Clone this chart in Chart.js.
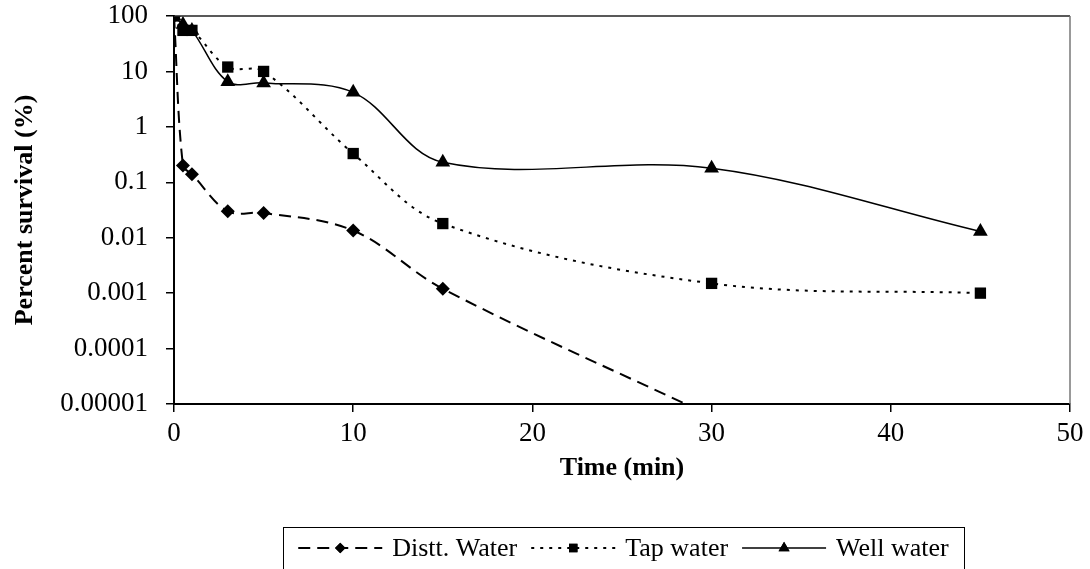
<!DOCTYPE html>
<html>
<head>
<meta charset="utf-8">
<script src="https://cdn.jsdelivr.net/npm/chart.js"></script>
<style>
  html, body { margin: 0; padding: 0; background: #fff; }
  #wrap { width: 1090px; height: 569px; }
</style>
</head>
<body>
<div id="wrap"><canvas id="chart"></canvas></div>
<script>
// values (time in minutes, percent survival)
const disttTime = [0, 0.5, 1, 3, 5, 10, 15, 30];
const disttSurvival = [100, 0.2, 0.14, 0.03, 0.028, 0.0135, 0.0012, 0.000006];

const tapTime = [0, 0.5, 1, 3, 5, 10, 15, 30, 45];
const tapSurvival = [100, 55, 55, 12, 10, 0.33, 0.018, 0.0015, 0.001];

const wellTime = [0, 0.5, 1, 3, 5, 10, 15, 30, 45];
const wellSurvival = [100, 70, 55, 6.5, 6.2, 4.2, 0.23, 0.18, 0.013];

const seriesNames = ["Distt. Water", "Tap water", "Well water"];
const yTickValues = [100, 10, 1, 0.1, 0.01, 0.001, 0.0001, 0.00001];
const xTickValues = [0, 10, 20, 30, 40, 50];

const serif = "'Liberation Serif', 'Times New Roman', serif";

const toPoints = (xs, ys) => xs.map((x, i) => ({ x: x, y: ys[i] }));

// top/right frame of the plot area
const frame = {
  id: "frame",
  afterDatasetsDraw(chart) {
    const { ctx, chartArea: a } = chart;
    ctx.save();
    ctx.lineWidth = 1.5;
    ctx.strokeStyle = "#222";
    ctx.beginPath();
    ctx.moveTo(a.left, a.top);
    ctx.lineTo(a.right, a.top);
    ctx.stroke();
    ctx.strokeStyle = "#777";
    ctx.beginPath();
    ctx.moveTo(a.right, a.top);
    ctx.lineTo(a.right, a.bottom);
    ctx.stroke();
    ctx.restore();
  },
};

// boxed legend below the axis title: line sample with marker, then name
const boxLegend = {
  id: "boxLegend",
  afterDraw(chart) {
    const ctx = chart.ctx;
    const box = { left: 283, top: 527, right: 964, bottom: 580 };
    const midY = 548;
    const sample = 84;
    ctx.save();
    ctx.strokeStyle = "#000";
    ctx.lineWidth = 1;
    ctx.strokeRect(box.left + 0.5, box.top + 0.5, box.right - box.left, box.bottom - box.top);

    ctx.font = "26px " + serif;
    ctx.textBaseline = "middle";
    const items = chart.data.datasets;
    const widths = items.map((d) => ctx.measureText(d.label).width);
    const total = widths.reduce((s, w) => s + w, 0) + items.length * (sample + 10) + (items.length - 1) * 14;
    let x = box.left + (box.right - box.left - total) / 2;

    items.forEach((d, i) => {
      ctx.save();
      ctx.strokeStyle = "#000";
      ctx.lineWidth = d.borderWidth;
      ctx.setLineDash(d.borderDash || []);
      ctx.beginPath();
      ctx.moveTo(x, midY);
      ctx.lineTo(x + sample, midY);
      ctx.stroke();
      ctx.restore();
      Chart.helpers.drawPoint(ctx, {
        pointStyle: d.pointStyle,
        radius: d.pointRadius * 0.75,
        rotation: 0,
        borderWidth: 0,
      }, x + sample / 2, midY);
      ctx.fillStyle = "#000";
      ctx.fill();
      x += sample + 10;
      ctx.fillStyle = "#000";
      ctx.fillText(d.label, x, midY + 1);
      x += widths[i] + 14;
    });
    ctx.restore();
  },
};

const lineSet = (label, xs, ys, dash, width, style, radius, order) => ({
  label: label,
  data: toPoints(xs, ys),
  borderColor: "#000",
  backgroundColor: "#000",
  borderWidth: width,
  borderDash: dash,
  pointStyle: style,
  pointRadius: radius,
  pointHoverRadius: radius,
  pointBorderWidth: 0,
  tension: 0.35,
  order: order,
});

new Chart(document.getElementById("chart"), {
  type: "line",
  data: {
    datasets: [
      lineSet(seriesNames[0], disttTime, disttSurvival, [12, 7], 2, "rectRot", 7, 2),
      lineSet(seriesNames[1], tapTime, tapSurvival, [3, 6], 2, "rect", 8, 0),
      lineSet(seriesNames[2], wellTime, wellSurvival, [], 1.5, "triangle", 8.5, 1),
    ],
  },
  options: {
    responsive: true,
    maintainAspectRatio: false,
    animation: false,
    layout: { padding: { top: 16, right: 20, bottom: 85, left: 0 } },
    elements: { line: { capBezierPoints: false } },
    plugins: {
      legend: { display: false },
      tooltip: { enabled: false },
    },
    scales: {
      x: {
        type: "linear",
        min: 0,
        max: 50,
        afterBuildTicks: (scale) => {
          scale.ticks = xTickValues.map((v) => ({ value: v }));
        },
        afterFit: (scale) => {
          scale.height = 80;
          scale.paddingLeft = 0;
          scale.paddingRight = 0;
        },
        border: { display: true, color: "#000", width: 2 },
        grid: { drawOnChartArea: false, drawTicks: true, tickLength: 8, color: "#000", lineWidth: 1.5 },
        ticks: { color: "#000", padding: 6, font: { family: serif, size: 27 } },
        title: {
          display: true,
          text: "Time (min)",
          color: "#000",
          padding: 0,
          font: { family: serif, size: 26, weight: "bold" },
        },
      },
      y: {
        type: "logarithmic",
        min: 0.00001,
        max: 100,
        afterBuildTicks: (scale) => {
          scale.ticks = yTickValues.map((v) => ({ value: v }));
        },
        afterFit: (scale) => {
          scale.width = 174;
          scale.paddingTop = 0;
          scale.paddingBottom = 0;
        },
        border: { display: true, color: "#000", width: 2 },
        grid: { drawOnChartArea: false, drawTicks: true, tickLength: 8, color: "#000", lineWidth: 1.5 },
        ticks: {
          color: "#000",
          padding: 18,
          font: { family: serif, size: 27 },
          callback: (v) => String(v),
        },
        title: {
          display: true,
          text: "Percent survival (%)",
          color: "#000",
          padding: { top: 10, bottom: 0 },
          font: { family: serif, size: 26, weight: "bold" },
        },
      },
    },
  },
  plugins: [frame, boxLegend],
});
</script>
</body>
</html>
